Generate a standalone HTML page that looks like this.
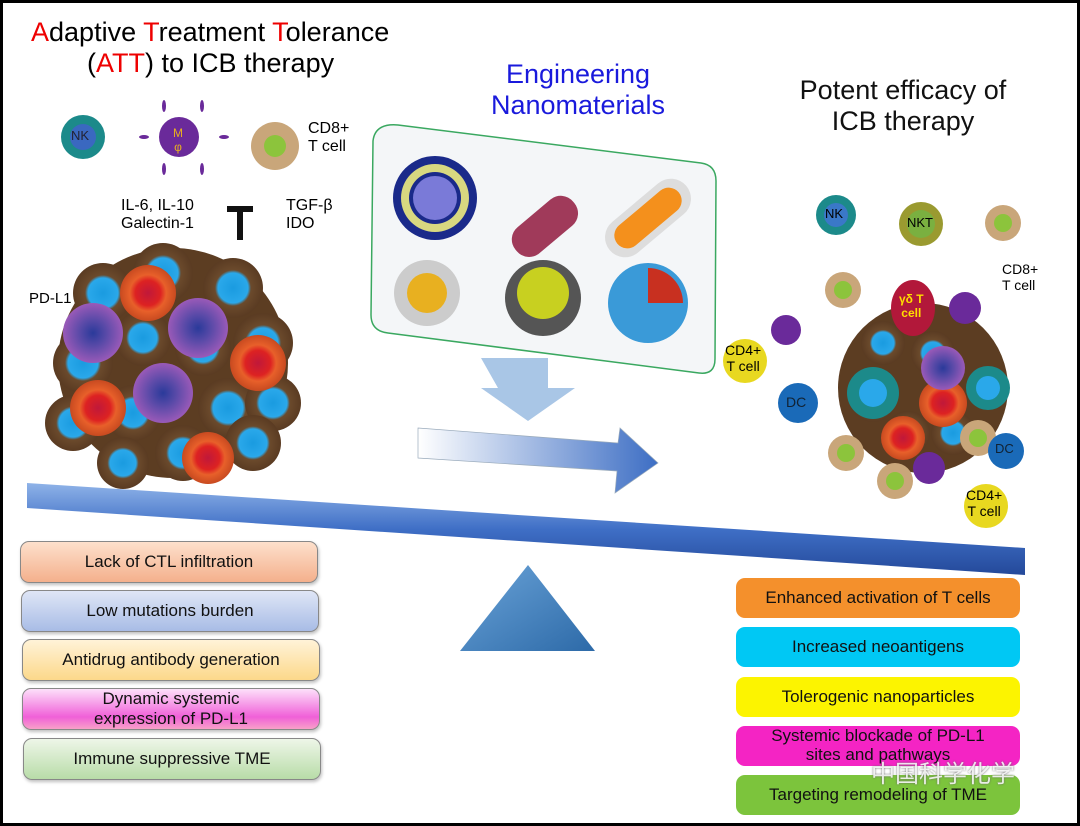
<!DOCTYPE html>
<html><head><meta charset="utf-8"><style>
html,body{margin:0;padding:0;background:#000}
#c{position:relative;width:1074px;height:820px;margin:3px;background:#fff;overflow:hidden;font-family:"Liberation Sans",sans-serif}
.t{position:absolute;text-align:center;line-height:1.15}
.box{position:absolute;border-radius:9px;border:1px solid #888;display:flex;align-items:center;justify-content:center;text-align:center;font-size:17px;line-height:1.15;color:#111;box-shadow:1px 2px 3px rgba(0,0,0,.25)}
.rb{position:absolute;border-radius:9px;display:flex;align-items:center;justify-content:center;text-align:center;font-size:17px;line-height:1.1;color:#111}
</style></head><body><div id="c">
<svg width="1074" height="820" style="position:absolute;left:0;top:0">
<defs>
<linearGradient id="beam" x1="0" y1="0" x2="0" y2="1"><stop offset="0" stop-color="#8fb3e8"/><stop offset=".5" stop-color="#3f6fc6"/><stop offset="1" stop-color="#24499a"/></linearGradient>
<linearGradient id="tri" x1="0" y1="0" x2="1" y2="1"><stop offset="0" stop-color="#6aa3d8"/><stop offset="1" stop-color="#2d6aa8"/></linearGradient>
<linearGradient id="arr" x1="0" y1="0" x2="1" y2="0"><stop offset="0" stop-color="#fff"/><stop offset="1" stop-color="#3d6ec4"/></linearGradient>
<radialGradient id="tc"><stop offset="0" stop-color="#1a9be0"/><stop offset=".5" stop-color="#2aa8ea"/><stop offset=".6" stop-color="#6b4a2c"/><stop offset="1" stop-color="#5a3b22"/></radialGradient>
<radialGradient id="rc"><stop offset="0" stop-color="#c0183a"/><stop offset=".45" stop-color="#d22"/><stop offset=".65" stop-color="#e8602a"/><stop offset="1" stop-color="#c84a20"/></radialGradient>
<radialGradient id="pc"><stop offset="0" stop-color="#2a3a9a"/><stop offset=".45" stop-color="#5a4aa8"/><stop offset="1" stop-color="#9a5ab8"/></radialGradient>
</defs>
<g>
<circle cx="170" cy="360" r="115" fill="#5c3d22"/>
<g fill="url(#tc)">
<circle cx="100" cy="290" r="30"/><circle cx="160" cy="270" r="30"/><circle cx="230" cy="285" r="30"/><circle cx="260" cy="340" r="30"/><circle cx="80" cy="360" r="30"/><circle cx="140" cy="335" r="28"/><circle cx="200" cy="345" r="28"/><circle cx="70" cy="420" r="28"/><circle cx="130" cy="410" r="28"/><circle cx="225" cy="405" r="30"/><circle cx="270" cy="400" r="28"/><circle cx="180" cy="450" r="28"/><circle cx="250" cy="440" r="28"/><circle cx="120" cy="460" r="26"/></g>
<g fill="url(#rc)"><circle cx="145" cy="290" r="28"/><circle cx="255" cy="360" r="28"/><circle cx="95" cy="405" r="28"/><circle cx="205" cy="455" r="26"/></g>
<g fill="url(#pc)"><circle cx="90" cy="330" r="30"/><circle cx="195" cy="325" r="30"/><circle cx="160" cy="390" r="30"/></g>
</g>
<g>
<circle cx="920" cy="385" r="85" fill="#5c3d22"/>
<g fill="url(#tc)"><circle cx="880" cy="340" r="22"/><circle cx="930" cy="350" r="22"/><circle cx="870" cy="395" r="24"/><circle cx="950" cy="430" r="22"/><circle cx="905" cy="430" r="22"/></g>
<circle cx="870" cy="390" r="26" fill="#1c8a8a"/><circle cx="870" cy="390" r="14" fill="#2aa8ea"/>
<circle cx="985" cy="385" r="22" fill="#1c8a8a"/><circle cx="985" cy="385" r="12" fill="#2aa8ea"/>
<circle cx="940" cy="400" r="24" fill="url(#rc)"/><circle cx="900" cy="435" r="22" fill="url(#rc)"/>
<circle cx="940" cy="365" r="22" fill="url(#pc)"/>
<ellipse cx="910" cy="305" rx="22" ry="28" fill="#b2183a"/>
<circle cx="840" cy="287" r="18" fill="#c9a67a"/><circle cx="840" cy="287" r="9" fill="#8cc43c"/>
<circle cx="975" cy="435" r="18" fill="#c9a67a"/><circle cx="975" cy="435" r="9" fill="#8cc43c"/>
<circle cx="843" cy="450" r="18" fill="#c9a67a"/><circle cx="843" cy="450" r="9" fill="#8cc43c"/>
<circle cx="892" cy="478" r="18" fill="#c9a67a"/><circle cx="892" cy="478" r="9" fill="#8cc43c"/>
<circle cx="1000" cy="220" r="18" fill="#c9a67a"/><circle cx="1000" cy="220" r="9" fill="#8cc43c"/>
<circle cx="833" cy="212" r="20" fill="#1c8a8a"/><circle cx="833" cy="212" r="12" fill="#3a78c8"/>
<circle cx="918" cy="221" r="22" fill="#9a9a30"/><circle cx="918" cy="221" r="14" fill="#7ab040"/>
<circle cx="962" cy="305" r="16" fill="#6a2a9a"/><circle cx="783" cy="327" r="15" fill="#6a2a9a"/><circle cx="926" cy="465" r="16" fill="#6a2a9a"/>
<circle cx="795" cy="400" r="20" fill="#1a6ab8"/><circle cx="1003" cy="448" r="18" fill="#1a6ab8"/>
<circle cx="742" cy="358" r="22" fill="#e8d820"/><circle cx="983" cy="503" r="22" fill="#e8d820"/>
</g>
<circle cx="80" cy="134" r="22" fill="#1c8a8a"/><circle cx="80" cy="134" r="13" fill="#3a68c0"/>
<g fill="#6a2a9a"><ellipse cx="161" cy="103" rx="2" ry="6"/><ellipse cx="199" cy="103" rx="2" ry="6"/><ellipse cx="161" cy="166" rx="2" ry="6"/><ellipse cx="199" cy="166" rx="2" ry="6"/><ellipse cx="141" cy="134" rx="5" ry="2"/><ellipse cx="221" cy="134" rx="5" ry="2"/></g>
<circle cx="176" cy="134" r="20" fill="#6a2a9a"/>
<circle cx="272" cy="143" r="24" fill="#c9a67a"/><circle cx="272" cy="143" r="11" fill="#8cc43c"/>
<rect x="234" y="205" width="6" height="32" fill="#111"/><rect x="224" y="203" width="26" height="6" fill="#111"/>
<path d="M395,122 L698,160 Q713,162 713,178 L712,356 Q712,372 696,370 L385,330 Q368,328 368,312 L370,138 Q372,120 395,122 Z" fill="#f4f6f8" stroke="#3aa860" stroke-width="1.5"/>
<circle cx="432" cy="195" r="42" fill="#1a2a8a"/><circle cx="432" cy="195" r="34" fill="#d8d880"/><circle cx="432" cy="195" r="26" fill="#1a2a8a"/><circle cx="432" cy="195" r="22" fill="#7a7ad8"/>
<g transform="rotate(-40 540 225)"><rect x="505" y="208" width="75" height="34" rx="16" fill="#a03a5a"/></g>
<g transform="rotate(-40 645 215)"><rect x="595" y="195" width="100" height="40" rx="20" fill="#ddd"/><rect x="605" y="202" width="80" height="26" rx="13" fill="#f4901c"/></g>
<circle cx="424" cy="290" r="33" fill="#ccc"/><circle cx="424" cy="290" r="20" fill="#e8b020"/>
<circle cx="540" cy="295" r="38" fill="#555"/><circle cx="540" cy="290" r="26" fill="#c8d020"/>
<circle cx="645" cy="300" r="40" fill="#3a9ad8"/><path d="M645,300 L645,265 A35 35 0 0 1 680,300 Z" fill="#c83020"/>
<path d="M478,355 L545,355 L545,385 L572,385 L525,418 L478,385 L495,385 Z" fill="#a9c6e6"/>
<path d="M415,425 L615,440 L617,425 L655,460 L612,490 L614,468 L415,455 Z" fill="url(#arr)" stroke="#9ab" stroke-width=".7"/>
<path d="M24,480 L1022,545 L1022,572 L24,505 Z" fill="url(#beam)"/>
<path d="M457,648 L525,562 L592,648 Z" fill="url(#tri)"/>
</svg>
<div class="t" style="left:28px;top:14px;font-size:27px;width:400px;text-align:left;line-height:1.13"><span style="color:#e00">A</span>daptive <span style="color:#e00">T</span>reatment <span style="color:#e00">T</span>olerance<br><span style="padding-left:56px">(<span style="color:#e00">ATT</span>) to ICB therapy</span></div>
<div class="t" style="left:460px;top:56px;width:230px;font-size:27px;color:#1a1adc">Engineering<br>Nanomaterials</div>
<div class="t" style="left:780px;top:72px;width:240px;font-size:27px;color:#111">Potent efficacy of<br>ICB therapy</div>
<div class="t" style="left:68px;top:126px;font-size:13px;color:#223">NK</div>
<div class="t" style="left:170px;top:124px;font-size:12px;color:#e8b020">M<br>φ</div>
<div class="t" style="left:305px;top:117px;font-size:16px;text-align:left">CD8+<br>T cell</div>
<div class="t" style="left:118px;top:194px;font-size:16px;text-align:right">IL-6, IL-10<br>Galectin-1</div>
<div class="t" style="left:283px;top:194px;font-size:16px;text-align:left">TGF-β<br>IDO</div>
<div class="t" style="left:26px;top:287px;font-size:15px">PD-L1</div>
<div class="t" style="left:822px;top:204px;font-size:13px">NK</div>
<div class="t" style="left:904px;top:213px;font-size:13px">NKT</div>
<div class="t" style="left:999px;top:258px;font-size:14px;text-align:left">CD8+<br>T cell</div>
<div class="t" style="left:896px;top:290px;font-size:12px;color:#fd0;font-weight:bold">γδ T<br>cell</div>
<div class="t" style="left:722px;top:339px;font-size:14px">CD4+<br>T cell</div>
<div class="t" style="left:963px;top:484px;font-size:14px">CD4+<br>T cell</div>
<div class="t" style="left:783px;top:391px;font-size:14px;color:#123">DC</div>
<div class="t" style="left:992px;top:439px;font-size:13px;color:#123">DC</div>
<div class="box" style="left:17px;top:538px;width:296px;height:40px;background:linear-gradient(#fde0cc,#f4b08c)">Lack of CTL infiltration</div>
<div class="box" style="left:18px;top:587px;width:296px;height:40px;background:linear-gradient(#dfe6f6,#a8bce6)">Low mutations burden</div>
<div class="box" style="left:19px;top:636px;width:296px;height:40px;background:linear-gradient(#fff3d8,#fcd88a)">Antidrug antibody generation</div>
<div class="box" style="left:19px;top:685px;width:296px;height:40px;background:linear-gradient(#fde0fa,#f060d8 70%,#f8a0c8)">Dynamic systemic<br>expression of PD-L1</div>
<div class="box" style="left:20px;top:735px;width:296px;height:40px;background:linear-gradient(#eef6e8,#b8dca8)">Immune suppressive TME</div>
<div class="rb" style="left:733px;top:575px;width:284px;height:40px;background:#f4902c">Enhanced activation of T cells</div>
<div class="rb" style="left:733px;top:624px;width:284px;height:40px;background:#00c8f4">Increased neoantigens</div>
<div class="rb" style="left:733px;top:674px;width:284px;height:40px;background:#fcf400">Tolerogenic nanoparticles</div>
<div class="rb" style="left:733px;top:723px;width:284px;height:40px;background:#f424c4">Systemic blockade of PD-L1<br>sites and pathways</div>
<div class="rb" style="left:733px;top:772px;width:284px;height:40px;background:#7cc43c">Targeting remodeling of TME</div>
<div class="t" style="left:868px;top:758px;font-size:24px;color:rgba(255,255,255,.85);text-shadow:0 0 2px #666;font-family:'Liberation Sans','Noto Sans CJK SC',sans-serif">中国科学化学</div>
</div></body></html>
